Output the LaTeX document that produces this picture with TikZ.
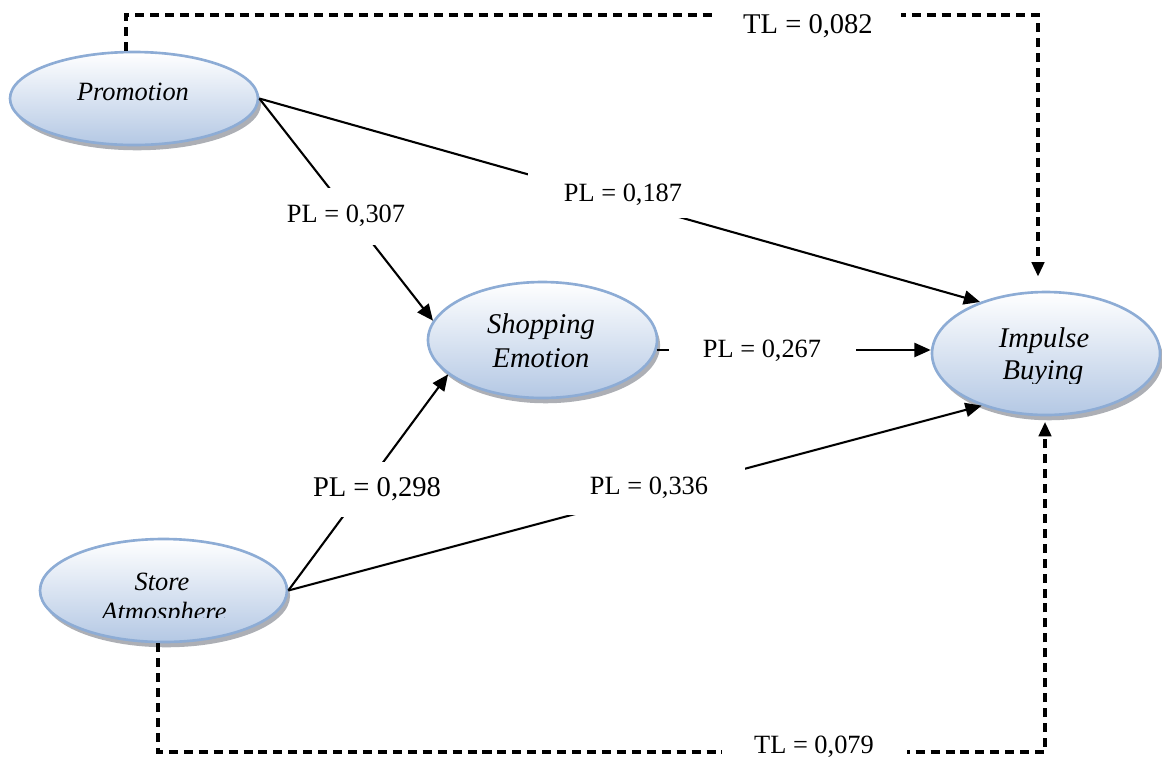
\documentclass[tikz,border=0pt]{standalone}
\usepackage{fontspec}
\setmainfont{Liberation Serif}
\usetikzlibrary{arrows.meta,shapes.geometric,shadows,calc}
\definecolor{ellborder}{RGB}{141,172,213}
\definecolor{ellbottom}{RGB}{180,200,228}
\definecolor{shadowgray}{RGB}{105,110,120}
\tikzset{
  latent/.style={ellipse, draw=ellborder, line width=1.2pt, top color=white, bottom color=ellbottom, inner sep=0pt,
     drop shadow={shadow xshift=1.4pt, shadow yshift=-2.4pt, fill=shadowgray, opacity=0.55}},
  ltxt/.style={anchor=base, inner sep=0pt, font=\itshape\fontsize{12}{14}\selectfont},
  ltxtb/.style={anchor=base, inner sep=0pt, font=\itshape\fontsize{13}{15}\selectfont},
  coef/.style={fill=white, inner sep=0pt, font=\fontsize{12}{14}\selectfont},
  coefb/.style={fill=white, inner sep=0pt, font=\fontsize{13}{15}\selectfont},
  pathdirect/.style={line width=0.95pt, -{Triangle[length=7.4pt,width=6.4pt]}},
  pathtotal/.style={line width=1.6pt, dash pattern=on 4.1pt off 2.7pt, -{Triangle[length=6.6pt,width=5.6pt]}},
}
\begin{document}
\begin{tikzpicture}[x=0.16mm, y=-0.16mm]
\useasboundingbox (0,0) rectangle (1162,758);
% latent variables
\node[latent, minimum width=39.68mm, minimum height=14.88mm] (prom) at (134,98.5) {};
\node[latent, minimum width=36.64mm, minimum height=18.56mm] (shop) at (542.5,340) {};
\node[latent, minimum width=36.48mm, minimum height=19.68mm] (imp) at (1046,353.5) {};
\node[latent, minimum width=39.52mm, minimum height=16.48mm] (store) at (163.5,590.5) {};
% texts in ellipses
\node[ltxt] (promtxt) at (133,100) {Promotion};
\node[ltxtb] (shoptxta) at (541,333) {Shopping};
\node[ltxtb] (shoptxtb) at (541,367) {Emotion};
\begin{scope}
 \clip (900,300) rectangle (1162,383);
 \node[ltxtb] (imptxta) at (1044,347) {Impulse};
 \node[ltxtb] (imptxtb) at (1043,379) {Buying};
\end{scope}
\begin{scope}
 \clip (0,540) rectangle (320,617);
 \node[ltxt] (storetxta) at (162,590) {Store};
 \node[ltxt] (storetxtb) at (164,620) {Atmosphere};
\end{scope}
% direct paths
\draw[pathdirect] (prom.east) -- (shop.170);
\draw[pathdirect] (prom.east) -- (imp.142);
\draw[pathdirect] (shop.-5) -- (shop.-5 -| imp.west);
\draw[pathdirect] (store.east) -- (shop.200);
\draw[pathdirect] (store.east) -- (imp.219);
% total paths
\coordinate (ptop) at (126,15);
\coordinate (itop) at (1038,15);
\draw[pathtotal, shorten >=6.4pt] (ptop |- prom.north) -- (ptop) -- (itop) -- (itop |- imp.north);
\coordinate (sbot) at (158,752);
\coordinate (ibot) at (1045,752);
\draw[pathtotal, shorten >=2.5pt] (sbot |- store.south) -- (sbot) -- (ibot) -- (ibot |- imp.south);
% coefficients
\node[coef, minimum width=20mm, minimum height=9.12mm] (l307) at (346,216) {PL = 0,307};
\node[coef, minimum width=30.4mm, minimum height=7.36mm] (l187) at (623,195) {PL = 0,187};
\node[coef, minimum width=29.92mm, minimum height=4.8mm] (l267) at (762,351) {PL = 0,267};
\node[coefb, minimum width=22.4mm, minimum height=8.8mm] (l298) at (377,489) {PL = 0,298};
\node[coef, minimum width=30.72mm, minimum height=8.64mm] (l336) at (649,488) {PL = 0,336};
\node[coefb, minimum width=29.6mm, minimum height=4.8mm] (tl082) at (808,26) {TL = 0,082};
\node[coef, minimum width=29.6mm, minimum height=4.8mm] (tl079) at (814,747) {TL = 0,079};
\end{tikzpicture}
\end{document}
